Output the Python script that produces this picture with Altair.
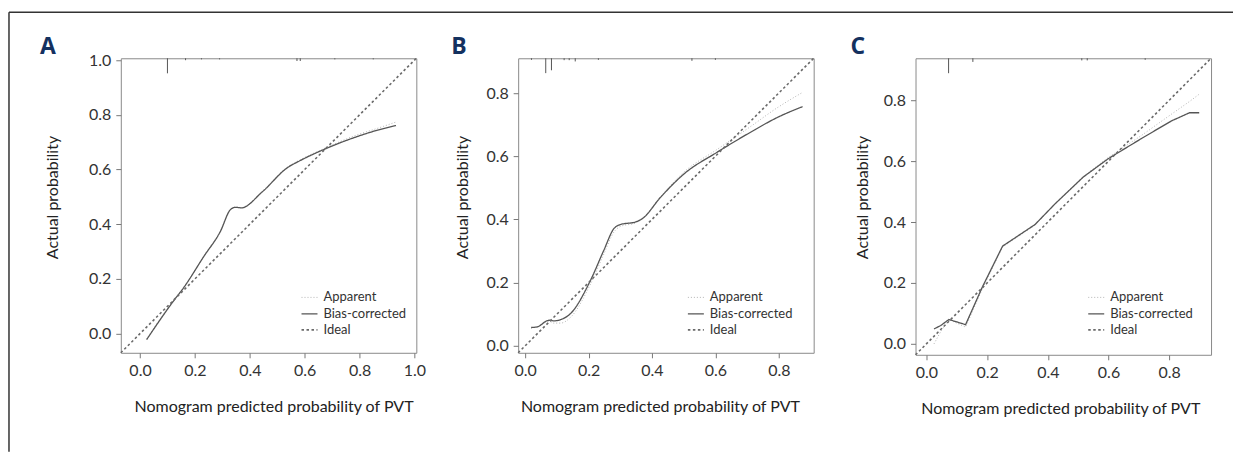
import altair as alt
import pandas as pd

# ---------------- data ----------------
# Panel A
a_x = [0.024, 0.13, 0.154, 0.233, 0.293, 0.33, 0.348, 0.369, 0.445, 0.536, 0.584, 0.669, 0.778, 0.887, 0.933]
a_bias = [-0.022, 0.13, 0.161, 0.283, 0.374, 0.454, 0.462, 0.46, 0.518, 0.606, 0.633, 0.673, 0.716, 0.75, 0.761]
a_app = [-0.02, 0.132, 0.162, 0.284, 0.376, 0.455, 0.463, 0.461, 0.52, 0.608, 0.636, 0.676, 0.722, 0.758, 0.774]
a_dom = [-0.07, 1.007]
a_ticks = [0.0, 0.2, 0.4, 0.6, 0.8, 1.0]
a_rug_x = [0.10, 0.166, 0.224, 0.29, 0.572, 0.584, 0.71, 0.85]
a_rug_len = [0.055, 0.007, 0.004, 0.004, 0.01, 0.01, 0.004, 0.004]

# Panel B
b_x = [0.019, 0.038, 0.075, 0.09, 0.112, 0.143, 0.206, 0.248, 0.28, 0.301, 0.348, 0.369, 0.427, 0.501, 0.606, 0.711, 0.796, 0.875]
b_bias = [0.058, 0.06, 0.081, 0.079, 0.083, 0.102, 0.207, 0.302, 0.371, 0.384, 0.392, 0.402, 0.47, 0.544, 0.613, 0.676, 0.723, 0.757]
b_app = [0.056, 0.06, 0.078, 0.072, 0.072, 0.09, 0.195, 0.29, 0.36, 0.378, 0.389, 0.402, 0.472, 0.55, 0.622, 0.694, 0.754, 0.802]
b_dom = [-0.022, 0.91]
b_ticks = [0.0, 0.2, 0.4, 0.6, 0.8]
b_rug_x = [0.02, 0.065, 0.083, 0.123, 0.139, 0.158, 0.231, 0.526, 0.6]
b_rug_len = [0.005, 0.047, 0.038, 0.006, 0.006, 0.01, 0.005, 0.008, 0.005]

# Panel C
c_x = [0.025, 0.047, 0.074, 0.129, 0.184, 0.251, 0.358, 0.424, 0.517, 0.599, 0.708, 0.807, 0.867, 0.899]
c_bias = [0.049, 0.06, 0.08, 0.063, 0.186, 0.321, 0.392, 0.46, 0.548, 0.608, 0.674, 0.732, 0.759, 0.759]
c_app = [0.0, 0.04, 0.08, 0.055, 0.18, 0.318, 0.39, 0.46, 0.55, 0.612, 0.684, 0.754, 0.796, 0.82]
c_dom = [-0.036, 0.938]
c_ticks = [0.0, 0.2, 0.4, 0.6, 0.8]
c_rug_x = [0.073, 0.153, 0.512, 0.530, 0.721]
c_rug_len = [0.049, 0.012, 0.007, 0.007, 0.005]

series_names = ["Apparent", "Bias-corrected", "Ideal"]
series_colors = ["#b4b4b4", "#555555", "#6a6a6a"]
series_dash = [[1, 2], [1, 0], [2.5, 2.5]]
series_width = [1.0, 1.6, 1.0]

FONT = "Lato, sans-serif"


def panel(letter, xs, bias, app, dom, ticks, rug_x, rug_len, w, h,
          letter_dx, ytitle_pad, xtitle_x, legend_x, interp, frame=False):
    rows = []
    for i, xv in enumerate(xs):
        rows.append({"x": xv, "y": app[i], "series": "Apparent", "o": i})
    for i, xv in enumerate(xs):
        rows.append({"x": xv, "y": bias[i], "series": "Bias-corrected", "o": i})
    rows.append({"x": dom[0], "y": dom[0], "series": "Ideal", "o": 0})
    rows.append({"x": dom[1], "y": dom[1], "series": "Ideal", "o": 1})
    df = pd.DataFrame(rows)

    xscale = alt.Scale(domain=dom, nice=False, zero=False)
    yscale = alt.Scale(domain=dom, nice=False, zero=False)
    xaxis = alt.Axis(values=ticks, format=".1f", title="Nomogram predicted probability of PVT",
                     labelPadding=5, titlePadding=20, titleX=xtitle_x)
    yaxis = alt.Axis(values=ticks, format=".1f", title="Actual probability",
                     labelPadding=5, titlePadding=ytitle_pad, titleY=139)
    leg = alt.Legend(orient="none", legendX=legend_x, legendY=231, title=None,
                     symbolType="stroke", symbolSize=256, labelOffset=5,
                     labelFont=FONT, labelFontSize=13, labelColor="#333333",
                     rowPadding=0, padding=0)

    lines = alt.Chart(df).mark_line(interpolate=interp).encode(
        x=alt.X("x:Q", scale=xscale, axis=xaxis),
        y=alt.Y("y:Q", scale=yscale, axis=yaxis),
        order="o:Q",
        color=alt.Color("series:N", scale=alt.Scale(domain=series_names, range=series_colors), legend=leg),
        strokeDash=alt.StrokeDash("series:N", scale=alt.Scale(domain=series_names, range=series_dash), legend=leg),
        strokeWidth=alt.StrokeWidth("series:N", scale=alt.Scale(domain=series_names, range=series_width), legend=leg),
    )

    rug_df = pd.DataFrame({"x": rug_x, "top": [dom[1]] * len(rug_x),
                           "bot": [dom[1] - l for l in rug_len]})
    rug = alt.Chart(rug_df).mark_rule(color="#555555", strokeWidth=1).encode(
        x="x:Q", y="top:Q", y2="bot:Q")

    lab = alt.Chart(pd.DataFrame({"t": [letter]})).mark_text(
        font="Open Sans", fontWeight="bold", fontSize=23, color="#14315f",
        align="left", baseline="alphabetic").encode(
        x=alt.value(letter_dx), y=alt.value(-4), text="t:N")

    layers = [lines, rug, lab]
    if frame:
        one = pd.DataFrame({"k": [0]})
        f1 = alt.Chart(one).mark_rule(color="#333333", strokeWidth=1.5).encode(
            x=alt.value(-112), y=alt.value(-46), y2=alt.value(394))
        f2 = alt.Chart(one).mark_rule(color="#333333", strokeWidth=1.5).encode(
            x=alt.value(-112), x2=alt.value(1114), y=alt.value(-46))
        layers += [f1, f2]
    return alt.layer(*layers).properties(width=w, height=h)


pa = panel("A", a_x, a_bias, a_app, a_dom, a_ticks, a_rug_x, a_rug_len, 296, 295,
           -81, 28, 153, 180, "monotone", frame=True)
pb = panel("B", b_x, b_bias, b_app, b_dom, b_ticks, b_rug_x, b_rug_len, 296, 295,
           -67, 15, 142, 169, "monotone")
pc = panel("C", c_x, c_bias, c_app, c_dom, c_ticks, c_rug_x, c_rug_len, 296, 297,
           -65, 13, 145, 172, "linear")

chart = alt.hconcat(pa, pb, pc, spacing=102, bounds="flush").resolve_scale(
    x="independent", y="independent", color="independent",
    strokeDash="independent", strokeWidth="independent"
).resolve_legend(color="independent", strokeDash="independent", strokeWidth="independent").properties(
    padding={"left": 7, "top": 10, "right": 0, "bottom": 0},
    background="white"
).configure_view(stroke="#8a8a8a", strokeWidth=1).configure_axis(
    domain=False, grid=False, tickColor="#777777", tickSize=5, tickWidth=1,
    labelFont=FONT, labelFontSize=16, labelColor="#333333",
    titleFont=FONT, titleFontSize=16, titleFontWeight="normal", titleColor="#222222"
)

chart.save("out.html", embed_options={"renderer": "svg", "actions": False})
